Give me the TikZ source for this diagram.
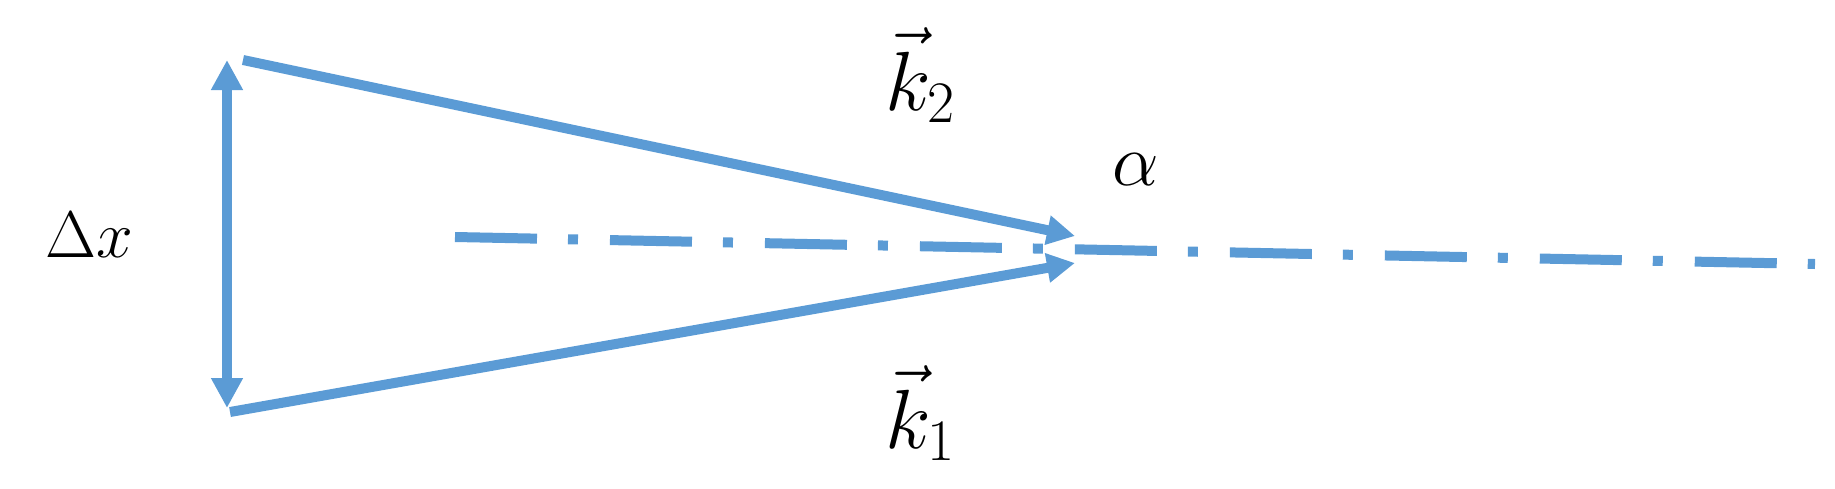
\RequirePackage{fix-cm}
\documentclass[tikz,border=0pt]{standalone}
\usetikzlibrary{arrows.meta}
\definecolor{lineblue}{HTML}{5B9BD5}
\begin{document}
\begin{tikzpicture}[x=1pt,y=-1pt,
  bluel/.style={draw=lineblue,line width=10pt},
  tipk/.style={-{Triangle[length=28pt,width=28pt]}},
  dashdot/.style={bluel,dash pattern=on 82pt off 31pt on 10pt off 32pt},
  lab/.style={inner sep=0pt,anchor=base west}]
\useasboundingbox (0,0) rectangle (1835,488);
\coordinate (top) at (227,60);
\coordinate (bot) at (227,408);
\coordinate (s2) at (243,60);
\coordinate (s1) at (230,412);
\coordinate (e2) at (1075,236);
\coordinate (e1) at (1075,263);
\coordinate (d0) at (455,237);
\coordinate (d1) at (1815,264);
\draw[bluel,{Triangle[length=30pt,width=30pt]}-{Triangle[length=30pt,width=30pt]}] (top) -- (bot);
\draw[bluel,tipk] (s2) -- (e2);
\draw[bluel,tipk] (s1) -- (e1);
\draw[dashdot] (d0) -- (d1);
\node[lab,font=\fontsize{66}{70}\selectfont] (dx) at (45,257) {$\Delta x$};
\node[lab,font=\fontsize{84}{90}\selectfont] (k2) at (885,110) {$\vec{k}_{2}$};
\node[lab,font=\fontsize{84}{90}\selectfont] (k1) at (885,448) {$\vec{k}_{1}$};
\node[lab,font=\fontsize{74}{80}\selectfont] (al) at (1112,185) {$\alpha$};
\end{tikzpicture}
\end{document}
